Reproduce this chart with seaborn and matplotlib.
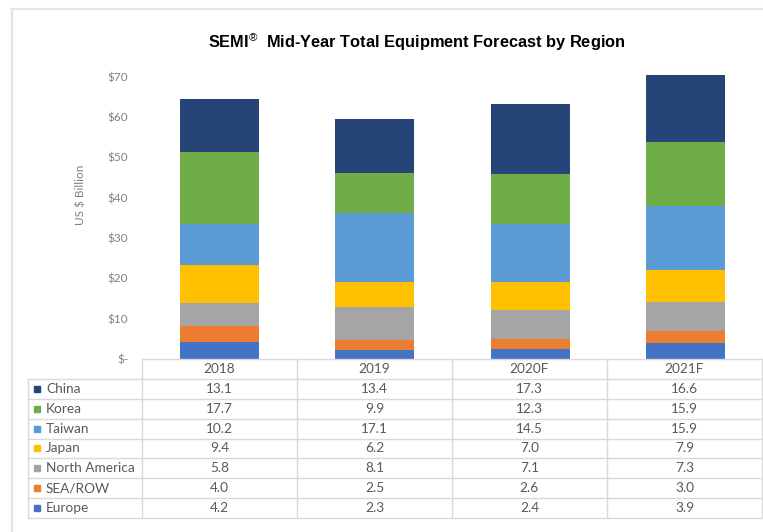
import numpy as np
import pandas as pd
import seaborn as sns
import matplotlib.pyplot as plt
from matplotlib.lines import Line2D

# data
years = ['2018', '2019', '2020F', '2021F']
regions = ['China', 'Korea', 'Taiwan', 'Japan', 'North America', 'SEA/ROW', 'Europe']
china = [13.1, 13.4, 17.3, 16.6]
korea = [17.7, 9.9, 12.3, 15.9]
taiwan = [10.2, 17.1, 14.5, 15.9]
japan = [9.4, 6.2, 7.0, 7.9]
north_america = [5.8, 8.1, 7.1, 7.3]
sea_row = [4.0, 2.5, 2.6, 3.0]
europe = [4.2, 2.3, 2.4, 3.9]
colors = ['#264478', '#70AD47', '#5B9BD5', '#FFC000', '#A5A5A5', '#ED7D31', '#4472C4']
yticks = [0, 10, 20, 30, 40, 50, 60, 70]
ytick_labels = ['$-', '$10', '$20', '$30', '$40', '$50', '$60', '$70']

series = [china, korea, taiwan, japan, north_america, sea_row, europe]

sns.set_style('white')
plt.rcParams['font.family'] = ['Lato', 'DejaVu Sans']
plt.rcParams['mathtext.fontset'] = 'custom'
plt.rcParams['mathtext.rm'] = 'Liberation Sans'

df = pd.DataFrame({
    'year': years * len(regions),
    'region': np.repeat(regions, len(years)),
    'value': sum(series, []),
})
# stack from the bottom (Europe) up to China
df['rank'] = df['region'].map({r: i for i, r in enumerate(regions[::-1])})
df = df.sort_values(['year', 'rank'])
df['top'] = df.groupby('year')['value'].cumsum()

fig = plt.figure(figsize=(7.63, 5.32), dpi=100)
ax = fig.add_axes([142 / 763, 1 - 359 / 532, 621 / 763, (359 - 68.8) / 532])

for region, color in zip(regions, colors):
    sub = df[df['region'] == region]
    sns.barplot(data=sub, x='year', y='top', order=years, color=color,
                width=0.51, saturation=1, errorbar=None, linewidth=0, ax=ax)

ax.set_xlim(-0.5, 3.5)
ax.set_ylim(0, 72)
ax.set_yticks(yticks)
ax.set_yticklabels(ytick_labels, fontsize=8.5, color='#7F7F7F')
ax.tick_params(axis='y', length=0, pad=10)
ax.set_xticks([])
ax.set_xlabel('')
ax.set_ylabel('')
sns.despine(ax=ax, left=True, bottom=True)

fig.text(81 / 763, 1 - 195 / 532, 'US $ Billion', rotation=90, ha='center', va='center',
         fontsize=8.5, color='#7F7F7F')

fig.text(417 / 763, 1 - 42 / 532,
         'SEMI$^{®}$  Mid-Year Total Equipment Forecast by Region',
         ha='center', va='center', fontsize=11.8, fontweight='bold',
         family='Liberation Sans', color='#000000')

# data table under the bars
tax = fig.add_axes([28 / 763, 1 - 518 / 532, 735 / 763, 159 / 532])
left = -0.5 - 114 / 155.25
tax.set_xlim(left, 3.5 + 1 / 155.25)
tax.set_ylim(8, 0)
tax.axis('off')
lc = '#D9D9D9'
tax.plot([-0.5, 3.5], [0, 0], color=lc, lw=1, clip_on=False)
for r in range(1, 9):
    tax.plot([left, 3.5], [r, r], color=lc, lw=1, clip_on=False)
tax.plot([left, left], [1, 8], color=lc, lw=1, clip_on=False)
for c in np.arange(-0.5, 4, 1):
    tax.plot([c, c], [0, 8], color=lc, lw=1, clip_on=False)

tcol = '#595959'
fs = 9.8
for i, y in enumerate(years):
    tax.text(i, 0.5, y, ha='center', va='center', fontsize=fs, color=tcol)
for r, (region, color, vals) in enumerate(zip(regions, colors, series)):
    tax.plot(left + 9 / 155.25, r + 1.5, marker='s', ms=5, color=color, clip_on=False)
    tax.text(left + 18 / 155.25, r + 1.5, region, ha='left', va='center', fontsize=fs, color=tcol)
    for i, v in enumerate(vals):
        tax.text(i, r + 1.5, '{:.1f}'.format(v), ha='center', va='center', fontsize=fs, color=tcol)

# frame lines at top and left of the picture
fig.add_artist(Line2D([11 / 763, 1], [1 - 9 / 532, 1 - 9 / 532], color='#E3E3E3', lw=1.5))
fig.add_artist(Line2D([12 / 763, 12 / 763], [0, 1 - 9 / 532], color='#E3E3E3', lw=1.5))

fig.savefig('out.png', dpi=100)
